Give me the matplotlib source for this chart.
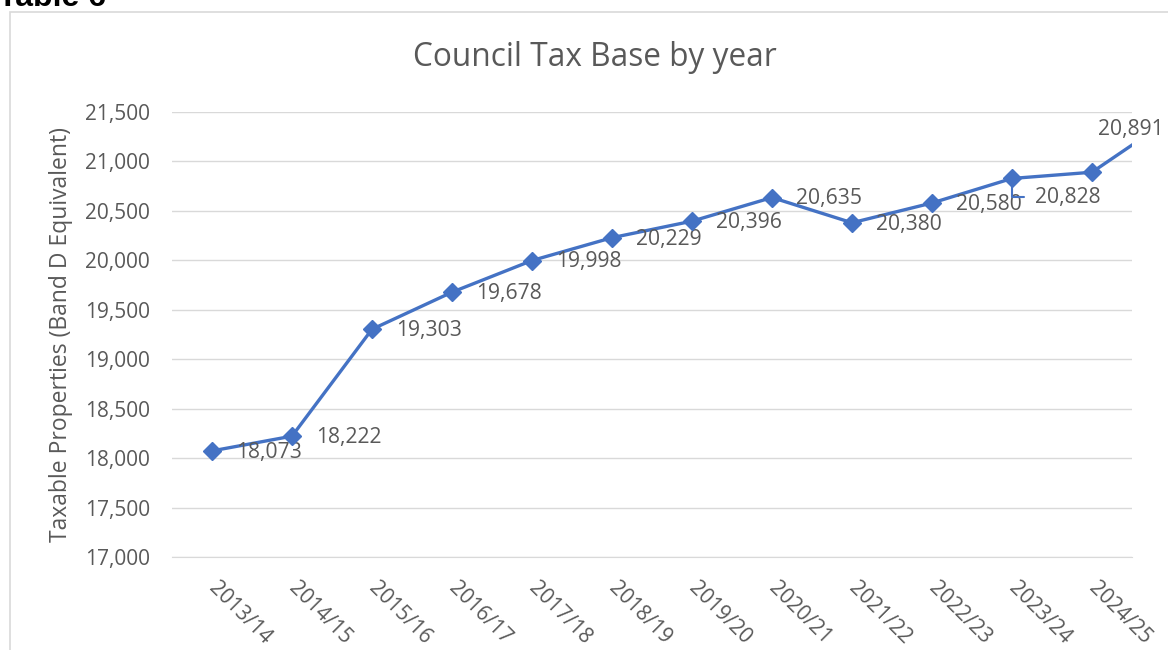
import matplotlib.pyplot as plt
from matplotlib.patches import Rectangle
from matplotlib.transforms import ScaledTranslation
from matplotlib.ticker import FuncFormatter

plt.rcParams['font.family'] = ['Open Sans', 'DejaVu Sans']

years = ['2013/14', '2014/15', '2015/16', '2016/17', '2017/18', '2018/19',
         '2019/20', '2020/21', '2021/22', '2022/23', '2023/24', '2024/25']
tax_base = [18073, 18222, 19303, 19678, 19998, 20229, 20396, 20635, 20380, 20580, 20828, 20891]
# the series runs on past the last category and is cut at the plot edge
next_value = 21440

blue = '#4472C4'
grey_txt = '#595959'
grid_col = '#d9d9d9'

W, H = 1168, 650
fig = plt.figure(figsize=(W / 100, H / 100), dpi=100)

# outer chart frame, partly cropped off
fig.patches.append(Rectangle((10 / W, -0.1), 1.2, 1 - 12 / H + 0.1, transform=fig.transFigure,
                             fill=False, edgecolor=grid_col, linewidth=1.2))
fig.text(-2 / W, 1 - 6 / H, 'Table 6', family='Liberation Sans', fontweight='bold',
         fontsize=23, ha='left', va='baseline', color='black')

fig.text(594.5 / W, 1 - 57 / H, 'Council Tax Base by year', fontsize=22.8,
         color=grey_txt, ha='center', va='center')

ax = fig.add_axes([172 / W, 1 - 557 / H, 960 / W, 445 / H])
x = list(range(len(years)))
ax.plot(x + [len(years)], tax_base + [next_value], color=blue, linewidth=2.4, zorder=3)
ax.plot(x, tax_base, linestyle='none', marker='D', markersize=9, color=blue, zorder=4)

ax.set_xlim(-0.5, len(years) - 0.5)
ax.set_ylim(17000, 21500)
ax.set_yticks(range(17000, 21501, 500))
ax.yaxis.set_major_formatter(FuncFormatter(lambda v, p: f'{int(v):,}'))
ax.grid(axis='y', color=grid_col, linewidth=1)
ax.set_axisbelow(True)
for s in ['top', 'right', 'left']:
    ax.spines[s].set_visible(False)
ax.spines['bottom'].set_color(grid_col)

ax.set_xticks(x)
ax.set_xticklabels(years, rotation=-45, ha='left', va='top', rotation_mode='anchor')
ax.tick_params(axis='both', length=0, labelsize=15, labelcolor=grey_txt)
ax.tick_params(axis='y', pad=16)
ax.tick_params(axis='x', pad=15)
for lab in ax.get_xticklabels():
    lab.set_transform(lab.get_transform() + ScaledTranslation(7 / 100, 0, fig.dpi_scale_trans))

ax.set_ylabel('Taxable Properties (Band D Equivalent)', fontsize=16.5, color=grey_txt)
ax.yaxis.set_label_coords((73 - 172) / 960, 0.5)

lab_size = 15.2
for i, v in enumerate(tax_base):
    lbl = f'{v:,}'
    if i == 10:
        ax.annotate(lbl, (i, v), xytext=(16.5, -13.5), textcoords='offset points',
                    ha='left', va='center', fontsize=lab_size, color=grey_txt,
                    arrowprops=dict(arrowstyle='-', color=blue, linewidth=1.5,
                                    connectionstyle='angle,angleA=0,angleB=90,rad=0',
                                    shrinkA=6, shrinkB=0, relpos=(0, 0.5)))
    elif i == 11:
        ax.annotate(lbl, (i, v), xytext=(4, 31), textcoords='offset points',
                    ha='left', va='center', fontsize=lab_size, color=grey_txt)
    else:
        ax.annotate(lbl, (i, v), xytext=(17, -1), textcoords='offset points',
                    ha='left', va='center', fontsize=lab_size, color=grey_txt)

plt.savefig('out.png', dpi=100)
